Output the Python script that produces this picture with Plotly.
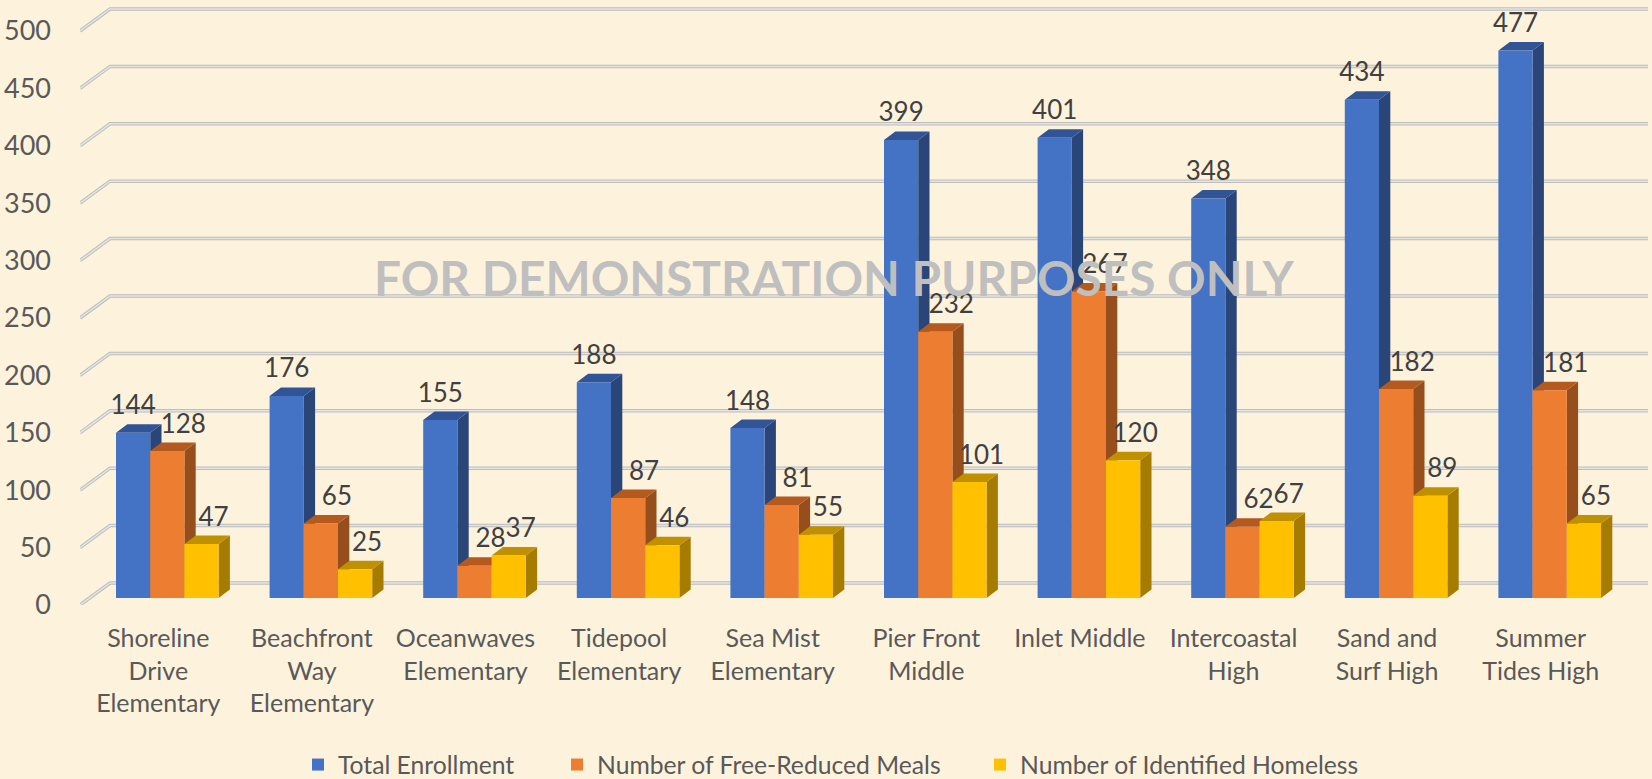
"""School enrollment chart with an Excel style 3D column look."""

from __future__ import annotations

import plotly.graph_objects as go

CATEGORIES = [
    "Shoreline<br>Drive<br>Elementary",
    "Beachfront<br>Way<br>Elementary",
    "Oceanwaves<br>Elementary",
    "Tidepool<br>Elementary",
    "Sea Mist<br>Elementary",
    "Pier Front<br>Middle",
    "Inlet Middle",
    "Intercoastal<br>High",
    "Sand and<br>Surf High",
    "Summer<br>Tides High",
]
TOTAL_ENROLLMENT = [144, 176, 155, 188, 148, 399, 401, 348, 434, 477]
FREE_REDUCED_MEALS = [128, 65, 28, 87, 81, 232, 267, 62, 182, 181]
IDENTIFIED_HOMELESS = [47, 25, 37, 46, 55, 101, 120, 67, 89, 65]
Y_TICKS = [0, 50, 100, 150, 200, 250, 300, 350, 400, 450, 500]

FONT = "Lato"
BACKGROUND = "#FDF3DD"

# pixel layout of the plot area, everything else is in axis units
LEFT, RIGHT, TOP, BOTTOM = 80, 1648, 0, 605
PX_PER_GROUP = 153.6
PX_PER_VALUE = 1.148
X_MIN = -(167.3 - LEFT) / PX_PER_GROUP
X_MAX = X_MIN + (RIGHT - LEFT) / PX_PER_GROUP
Y_MAX = (BOTTOM - TOP) / PX_PER_VALUE

BAR_WIDTH = 34.2 / PX_PER_GROUP
BAR_BASE = 7 / PX_PER_VALUE
BAR_DX = 11.3 / PX_PER_GROUP
BAR_DY = 8.5 / PX_PER_VALUE
WALL_DX = 30 / PX_PER_GROUP
WALL_DY = 22 / PX_PER_VALUE
LABEL_GAP = 25 / PX_PER_VALUE

SERIES = [
    {
        "name": "Total Enrollment",
        "values": TOTAL_ENROLLMENT,
        "front": "#4472C4",
        "side": "#2A4679",
        "top": "#315496",
        "label_dx": 0,
        "legend": "legend",
        "legend_x": 298,
    },
    {
        "name": "Number of Free-Reduced Meals",
        "values": FREE_REDUCED_MEALS,
        "front": "#ED7D31",
        "side": "#964F1C",
        "top": "#B45A1E",
        "label_dx": 16 / PX_PER_GROUP,
        "legend": "legend2",
        "legend_x": 557,
    },
    {
        "name": "Number of Identified Homeless",
        "values": IDENTIFIED_HOMELESS,
        "front": "#FFC000",
        "side": "#A67C00",
        "top": "#BF9000",
        "label_dx": 12 / PX_PER_GROUP,
        "legend": "legend3",
        "legend_x": 980,
    },
]

positions = list(range(len(CATEGORIES)))


def wall_lines(color: str, width: float) -> go.Scatter:
    """Gridlines that run along the floor edge and then across the back wall."""
    xs, ys = [], []
    for tick in Y_TICKS:
        xs += [X_MIN, X_MIN + WALL_DX, X_MAX, None]
        ys += [tick, tick + WALL_DY, tick + WALL_DY, None]
    return go.Scatter(
        x=xs, y=ys, mode="lines", line={"color": color, "width": width}, hoverinfo="skip", showlegend=False
    )


def faces(values: list[int], index: int, face: str, color: str) -> go.Scatter:
    """Side or top faces of one series, as closed polygons on the data axes."""
    xs, ys = [], []
    for pos, value in zip(positions, values):
        right = pos + (index - 0.5) * BAR_WIDTH
        top = BAR_BASE + value
        if face == "side":
            xs += [right, right + BAR_DX, right + BAR_DX, right, None]
            ys += [BAR_BASE, BAR_BASE + BAR_DY, top + BAR_DY, top, None]
        else:
            left = right - BAR_WIDTH
            xs += [left, left + BAR_DX, right + BAR_DX, right, None]
            ys += [top, top + BAR_DY, top + BAR_DY, top, None]
    return go.Scatter(
        x=xs,
        y=ys,
        mode="lines",
        fill="toself",
        fillcolor=color,
        line={"width": 0, "color": color},
        hoverinfo="skip",
        showlegend=False,
    )


def legend_box(x_px: float) -> dict:
    return {
        "x": (x_px - LEFT) / (RIGHT - LEFT),
        "y": (BOTTOM - 765) / (BOTTOM - TOP),
        "xanchor": "left",
        "yanchor": "middle",
        "bgcolor": "rgba(0,0,0,0)",
        "font": {"family": FONT, "size": 24.7, "color": "#595959"},
    }


fig = go.Figure()

fig.add_trace(wall_lines("#BDBDBD", 3.5))
fig.add_trace(wall_lines("#E4E4E2", 1.5))

for index, series in enumerate(SERIES):
    fig.add_trace(faces(series["values"], index, "side", series["side"]))
    fig.add_trace(faces(series["values"], index, "top", series["top"]))

# fronts sit on an overlaying subplot so they cover the faces of the column to their left
for series in SERIES:
    fig.add_trace(
        go.Bar(
            name=series["name"],
            x=positions,
            y=series["values"],
            base=BAR_BASE,
            marker={"color": series["front"], "line": {"width": 0}},
            legend=series["legend"],
            xaxis="x2",
            yaxis="y2",
        )
    )

for index, series in enumerate(SERIES):
    fig.add_trace(
        go.Scatter(
            x=[pos + (index - 1) * BAR_WIDTH + series["label_dx"] for pos in positions],
            y=[BAR_BASE + value + LABEL_GAP for value in series["values"]],
            text=[str(value) for value in series["values"]],
            mode="text",
            textposition="middle center",
            textfont={"family": FONT, "size": 26, "color": "#404040"},
            hoverinfo="skip",
            showlegend=False,
            cliponaxis=False,
            xaxis="x2",
            yaxis="y2",
        )
    )

fig.update_layout(
    width=1652,
    height=779,
    autosize=False,
    # the legends sit well below the plot area and must not shrink it
    margin={"l": LEFT, "r": 1652 - RIGHT, "t": TOP, "b": 779 - BOTTOM, "pad": 0, "autoexpand": False},
    paper_bgcolor=BACKGROUND,
    plot_bgcolor=BACKGROUND,
    barmode="group",
    bargap=1 - 3 * BAR_WIDTH,
    bargroupgap=0,
    xaxis={
        "range": [X_MIN, X_MAX],
        "tickmode": "array",
        "tickvals": [pos - 9 / PX_PER_GROUP for pos in positions],
        "ticktext": CATEGORIES,
        "tickfont": {"family": FONT, "size": 25, "color": "#595959"},
        "tickangle": 0,
        "showgrid": False,
        "zeroline": False,
        "showline": False,
        "ticks": "",
        "ticklabelstandoff": 16,
    },
    yaxis={
        "range": [0, Y_MAX],
        "tickmode": "array",
        "tickvals": Y_TICKS,
        "tickfont": {"family": FONT, "size": 27, "color": "#595959"},
        "showgrid": False,
        "zeroline": False,
        "showline": False,
        "ticks": "",
        "ticklabelstandoff": 28,
    },
    xaxis2={"overlaying": "x", "matches": "x", "visible": False},
    yaxis2={"overlaying": "y", "matches": "y", "visible": False},
    showlegend=True,
    legend=legend_box(SERIES[0]["legend_x"]),
    legend2=legend_box(SERIES[1]["legend_x"]),
    legend3=legend_box(SERIES[2]["legend_x"]),
    annotations=[
        {
            "text": "<b>FOR DEMONSTRATION PURPOSES ONLY</b>",
            "xref": "paper",
            "yref": "paper",
            "x": (834 - LEFT) / (RIGHT - LEFT),
            "y": (BOTTOM - 277) / (BOTTOM - TOP),
            "showarrow": False,
            "font": {"family": FONT, "size": 47.8, "color": "#BFBFBF"},
        }
    ],
)

# the browser's default body margin would leave a white frame round the chart
fig.write_html(
    "out.html",
    config={"displayModeBar": False},
    post_script="document.body.style.margin = '0';",
)
